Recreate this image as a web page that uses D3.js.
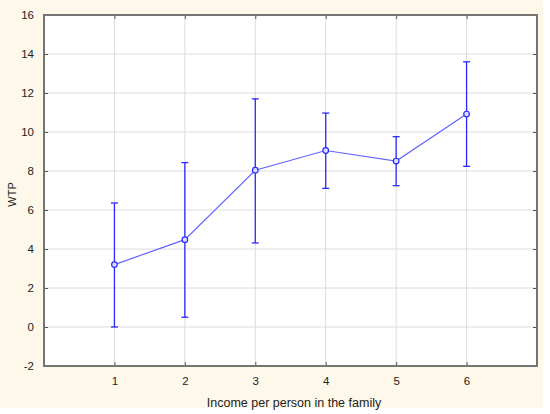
<!DOCTYPE html>
<html>
<head>
<meta charset="utf-8">
<script src="https://cdn.jsdelivr.net/npm/d3@7"></script>
<style>
  body { margin: 0; background: #fff; }
  text { font-family: "Liberation Sans", Arial, sans-serif; }
</style>
</head>
<body>
<svg id="svg" width="550" height="414"></svg>
<script>
const categories = [1, 2, 3, 4, 5, 6];
const means = [3.2, 4.48, 8.04, 9.05, 8.51, 10.92];
const upper = [6.36, 8.43, 11.7, 10.97, 9.76, 13.6];
const lower = [0.0, 0.5, 4.31, 7.11, 7.25, 8.24];
const yTicks = [-2, 0, 2, 4, 6, 8, 10, 12, 14, 16];

const svg = d3.select('#svg');
const m = {left: 44, top: 15, right: 537, bottom: 366};

svg.append('rect').attr('x', 0).attr('y', 0).attr('width', 543).attr('height', 408)
  .attr('fill', '#fdf8ea');
svg.append('rect').attr('x', m.left).attr('y', m.top)
  .attr('width', m.right - m.left).attr('height', m.bottom - m.top).attr('fill', '#fff');

const x = d3.scaleLinear().domain([0, 7]).range([m.left, m.right]);
const y = d3.scaleLinear().domain([-2, 16]).range([m.bottom, m.top]);

// grid
svg.append('g').selectAll('line').data(yTicks).join('line')
  .attr('x1', m.left).attr('x2', m.right)
  .attr('y1', d => y(d)).attr('y2', d => y(d))
  .attr('stroke', '#dcdcdc');
svg.append('g').selectAll('line').data(categories).join('line')
  .attr('y1', m.top).attr('y2', m.bottom)
  .attr('x1', d => x(d)).attr('x2', d => x(d))
  .attr('stroke', '#dcdcdc');

// axes (ticks inward)
const tickStyle = g => {
  g.select('.domain').remove();
  g.selectAll('.tick line').attr('stroke', '#555');
  g.selectAll('.tick text').attr('fill', '#222').style('font-size', '11.5px');
};
svg.append('g').attr('transform', `translate(${m.left},0)`)
  .call(d3.axisLeft(y).tickValues(yTicks).tickSize(-4).tickPadding(10).tickFormat(d => String(d)))
  .call(tickStyle);
svg.append('g').attr('transform', `translate(${m.right},0)`)
  .call(d3.axisRight(y).tickValues(yTicks).tickSize(-4).tickFormat(''))
  .call(tickStyle);
svg.append('g').attr('transform', `translate(0,${m.bottom})`)
  .call(d3.axisBottom(x).tickValues(categories).tickSize(-4).tickPadding(11).tickFormat(d => String(d)))
  .call(tickStyle);
svg.append('g').attr('transform', `translate(0,${m.top})`)
  .call(d3.axisTop(x).tickValues(categories).tickSize(-4).tickFormat(''))
  .call(tickStyle);

// frame
svg.append('rect').attr('x', m.left).attr('y', m.top)
  .attr('width', m.right - m.left).attr('height', m.bottom - m.top)
  .attr('fill', 'none').attr('stroke', '#757575').attr('stroke-width', 2);

const data = categories.map((c, i) => ({c, v: means[i], hi: upper[i], lo: lower[i]}));

// error bars
const eb = svg.append('g').attr('stroke', '#2a2aff').attr('stroke-width', 1.3);
eb.selectAll('.v').data(data).join('line')
  .attr('x1', d => x(d.c)).attr('x2', d => x(d.c))
  .attr('y1', d => y(d.hi)).attr('y2', d => y(d.lo));
eb.selectAll('.t').data(data).join('line')
  .attr('x1', d => x(d.c) - 3.5).attr('x2', d => x(d.c) + 3.5)
  .attr('y1', d => y(d.hi)).attr('y2', d => y(d.hi));
eb.selectAll('.b').data(data).join('line')
  .attr('x1', d => x(d.c) - 3.5).attr('x2', d => x(d.c) + 3.5)
  .attr('y1', d => y(d.lo)).attr('y2', d => y(d.lo));

// mean line
const line = d3.line().x(d => x(d.c)).y(d => y(d.v));
svg.append('path').datum(data).attr('d', line)
  .attr('fill', 'none').attr('stroke', '#6464ff').attr('stroke-width', 1.2);

svg.append('g').selectAll('circle').data(data).join('circle')
  .attr('cx', d => x(d.c)).attr('cy', d => y(d.v)).attr('r', 2.8)
  .attr('fill', '#dcdcff').attr('stroke', '#2a2aff').attr('stroke-width', 1.2);

// titles
svg.append('text').attr('x', 294).attr('y', 406.5)
  .attr('text-anchor', 'middle').style('font-size', '12.5px').attr('fill', '#222')
  .text('Income per person in the family');
svg.append('text').attr('transform', `translate(16,${(m.top + m.bottom) / 2 + 4}) rotate(-90)`)
  .attr('text-anchor', 'middle').style('font-size', '11px').attr('fill', '#222')
  .text('WTP');
</script>
</body>
</html>
